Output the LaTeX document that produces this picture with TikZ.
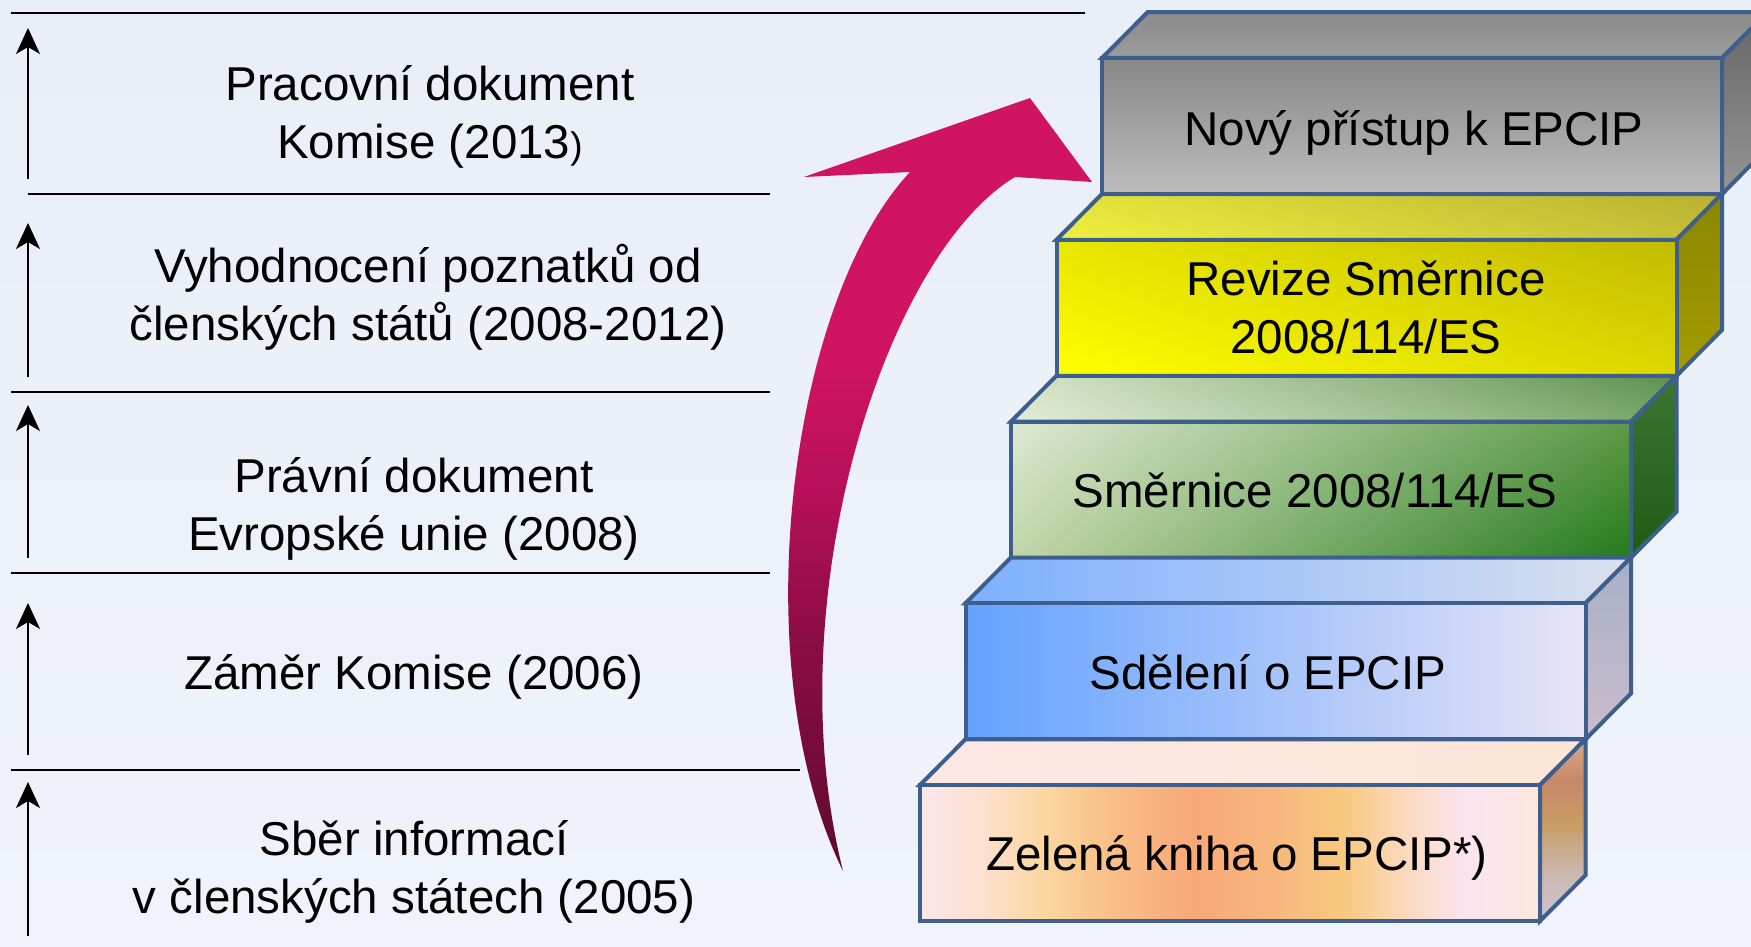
\documentclass[tikz,border=0pt]{standalone}
\usepackage{fontspec}
\setmainfont{Liberation Sans}
\usetikzlibrary{arrows.meta,shadings}
\definecolor{bgtop}{HTML}{E9EEF8}
\definecolor{bgbot}{HTML}{F0F3FB}
\definecolor{edge}{HTML}{3E5F8E}
\definecolor{ma1}{HTML}{D01462}
\definecolor{ma2}{HTML}{B8105A}
\definecolor{ma3}{HTML}{8C0C44}
\definecolor{ma4}{HTML}{5E0A2E}
\definecolor{of0}{HTML}{FCE6EA}
\definecolor{of1}{HTML}{FDE0D0}
\definecolor{of2}{HTML}{FBD7A0}
\definecolor{of3}{HTML}{F9C08A}
\definecolor{of4}{HTML}{F8A878}
\definecolor{of5}{HTML}{F7B67E}
\definecolor{of6}{HTML}{F8C87E}
\definecolor{of7}{HTML}{FCDCC8}
\definecolor{of8}{HTML}{FBE4F0}
\definecolor{of9}{HTML}{FDE6DC}
\definecolor{or0}{HTML}{D0C4D4}
\definecolor{or1}{HTML}{CAB8B0}
\definecolor{or2}{HTML}{C89C64}
\definecolor{or3}{HTML}{C8886A}
\definecolor{or4}{HTML}{D7AC84}
\definecolor{gf1}{HTML}{878787}
\definecolor{gf2}{HTML}{BDBDBD}
\definecolor{gt1}{HTML}{8B8B8B}
\definecolor{gt2}{HTML}{9C9C9C}
\definecolor{gr1}{HTML}{666666}
\definecolor{gr2}{HTML}{959595}
\definecolor{bm}{HTML}{92C6FF}
\pgfdeclareverticalshading{magarrow}{100bp}{color(0bp)=(ma4); color(25bp)=(ma4); color(40bp)=(ma3); color(50bp)=(ma2); color(58bp)=(ma1); color(75bp)=(ma1); color(100bp)=(ma1)}
\pgfdeclarehorizontalshading{orfront}{100bp}{color(0bp)=(of0); color(25bp)=(of0); color(30bp)=(of1); color(35bp)=(of2); color(40bp)=(of3); color(47bp)=(of4); color(53bp)=(of5); color(59bp)=(of6); color(65bp)=(of7); color(69bp)=(of8); color(75bp)=(of9); color(100bp)=(of9)}
\pgfdeclareverticalshading{orright}{100bp}{color(0bp)=(or0); color(25bp)=(or0); color(38bp)=(or1); color(52bp)=(or2); color(64bp)=(or3); color(75bp)=(or4); color(100bp)=(or4)}
\newcommand\tstrut{\rule{0pt}{40pt}}
\newcommand\stairbox[3]{%
  \path[#3T] (#1,#2) -- ++(45.5,-45.75) -- ++(620,0) -- ++(-45.5,45.75) -- cycle;
  \path[#3R] (#1+620,#2) -- ++(45.5,-45.75) -- ++(0,136) -- ++(-45.5,45.75) -- cycle;
  \path[#3F] (#1,#2) rectangle ++(620,136);
}
\begin{document}
\begin{tikzpicture}[x=1pt,y=-1pt,
  rule/.style={line width=2.5pt,black},
  uparrow/.style={line width=2pt,black,-{Stealth[length=26pt,width=24pt,inset=7pt]}},
  lbl/.style={anchor=north,inner sep=0pt,align=center,font=\fontsize{47.5}{58}\selectfont},
  face/.style={draw=edge,line width=4pt},
  gF/.style={face,top color=gf1,bottom color=gf2},
  gT/.style={face,top color=gt1,bottom color=gt2},
  gR/.style={face,top color=gr1,bottom color=gr2},
  yF/.style={face,shading=bilinear interpolation,shade,upper left={rgb,255:red,233;green,230;blue,0},lower left={rgb,255:red,255;green,255;blue,0},upper right={rgb,255:red,194;green,186;blue,0},lower right={rgb,255:red,221;green,216;blue,0}},
  yT/.style={face,shading=bilinear interpolation,shade,upper left={rgb,255:red,228;green,228;blue,58},lower left={rgb,255:red,240;green,240;blue,64},upper right={rgb,255:red,184;green,176;blue,48},lower right={rgb,255:red,196;green,190;blue,56}},
  yR/.style={face,top color={rgb,255:red,140;green,134;blue,0},bottom color={rgb,255:red,163;green,156;blue,0}},
  nF/.style={face,shading=bilinear interpolation,shade,upper left={rgb,255:red,221;green,233;blue,210},lower left={rgb,255:red,194;green,214;blue,168},upper right={rgb,255:red,94;green,154;blue,72},lower right={rgb,255:red,35;green,122;blue,30}},
  nT/.style={face,shading=bilinear interpolation,shade,upper left={rgb,255:red,214;green,228;blue,198},lower left={rgb,255:red,226;green,236;blue,216},upper right={rgb,255:red,94;green,144;blue,80},lower right={rgb,255:red,120;green,168;blue,104}},
  nR/.style={face,top color={rgb,255:red,58;green,118;blue,50},bottom color={rgb,255:red,30;green,92;blue,22}},
  bF/.style={face,left color={rgb,255:red,100;green,162;blue,255},middle color=bm,right color={rgb,255:red,232;green,228;blue,246}},
  bT/.style={face,left color={rgb,255:red,124;green,176;blue,255},middle color={rgb,255:red,160;green,206;blue,255},right color={rgb,255:red,218;green,224;blue,238}},
  bR/.style={face,top color={rgb,255:red,168;green,176;blue,198},bottom color={rgb,255:red,202;green,188;blue,204}},
  oF/.style={face,shade,shading=orfront},
  oT/.style={face,left color={rgb,255:red,253;green,232;blue,228},middle color={rgb,255:red,252;green,222;blue,180},right color={rgb,255:red,252;green,230;blue,214}},
  oR/.style={face,shade,shading=orright},
  stxt/.style={anchor=north,inner sep=0pt,align=center,font=\fontsize{47.5}{58}\selectfont}
]
\useasboundingbox (0,0) rectangle (1751,947);
\clip (0,0) rectangle (1751,947);
\shade[top color=bgtop,bottom color=bgbot] (0,0) rectangle (1751,947);

% horizontal rules
\draw[rule] (11,13) -- (1085,13);
\draw[rule] (28,194) -- (770,194);
\draw[rule] (11,392) -- (770,392);
\draw[rule] (11,573) -- (770,573);
\draw[rule] (11,770) -- (800,770);

% up arrows
\coordinate (a1s) at (28,936); \coordinate (a1e) at (28,782);
\coordinate (a2s) at (28,755); \coordinate (a2e) at (28,603);
\coordinate (a3s) at (28,558); \coordinate (a3e) at (28,405);
\coordinate (a4s) at (28,377); \coordinate (a4e) at (28,223);
\coordinate (a5s) at (28,179); \coordinate (a5e) at (28,28);
\draw[uparrow] (a1s) -- (a1e);
\draw[uparrow] (a2s) -- (a2e);
\draw[uparrow] (a3s) -- (a3e);
\draw[uparrow] (a4s) -- (a4e);
\draw[uparrow] (a5s) -- (a5e);

% left labels
\node[lbl] (t5) at (430,60) {\tstrut Pracovní dokument\\Komise (2013{\fontsize{37}{58}\selectfont)}};
\node[lbl] (t4) at (428,242) {\tstrut Vyhodnocení poznatků od\\členských států (2008-2012)};
\node[lbl] (t3) at (414,452) {\tstrut Právní dokument\\Evropské unie (2008)};
\node[lbl] (t2) at (414,649) {\tstrut Záměr Komise (2006)};
\node[lbl] (t1) at (414,815) {\tstrut Sběr informací\\v členských státech (2005)};

% curved magenta arrow
\path[shade,shading=magarrow] (804,177) -- (1030,98) -- (1092,182) -- (1015,177)
  .. controls (885,255) and (775,600) .. (843,871)
  .. controls (742,665) and (790,300) .. (910,172) -- cycle;

% stairs
\stairbox{1102}{58}{g}
\stairbox{1056.5}{239.75}{y}
\stairbox{1011}{421.5}{n}
\stairbox{965.5}{603.25}{b}
\stairbox{920}{785}{o}

\node[stxt] (s5) at (1414,105) {\tstrut Nový přístup k EPCIP};
\node[stxt] (s4) at (1366,255) {\tstrut Revize Směrnice\\2008/114/ES};
\node[stxt] (s3) at (1315,467) {\tstrut Směrnice 2008/114/ES};
\node[stxt] (s2) at (1268,649) {\tstrut Sdělení o EPCIP};
\node[stxt] (s1) at (1237,830) {\tstrut Zelená kniha o EPCIP*)};
\end{tikzpicture}
\end{document}
